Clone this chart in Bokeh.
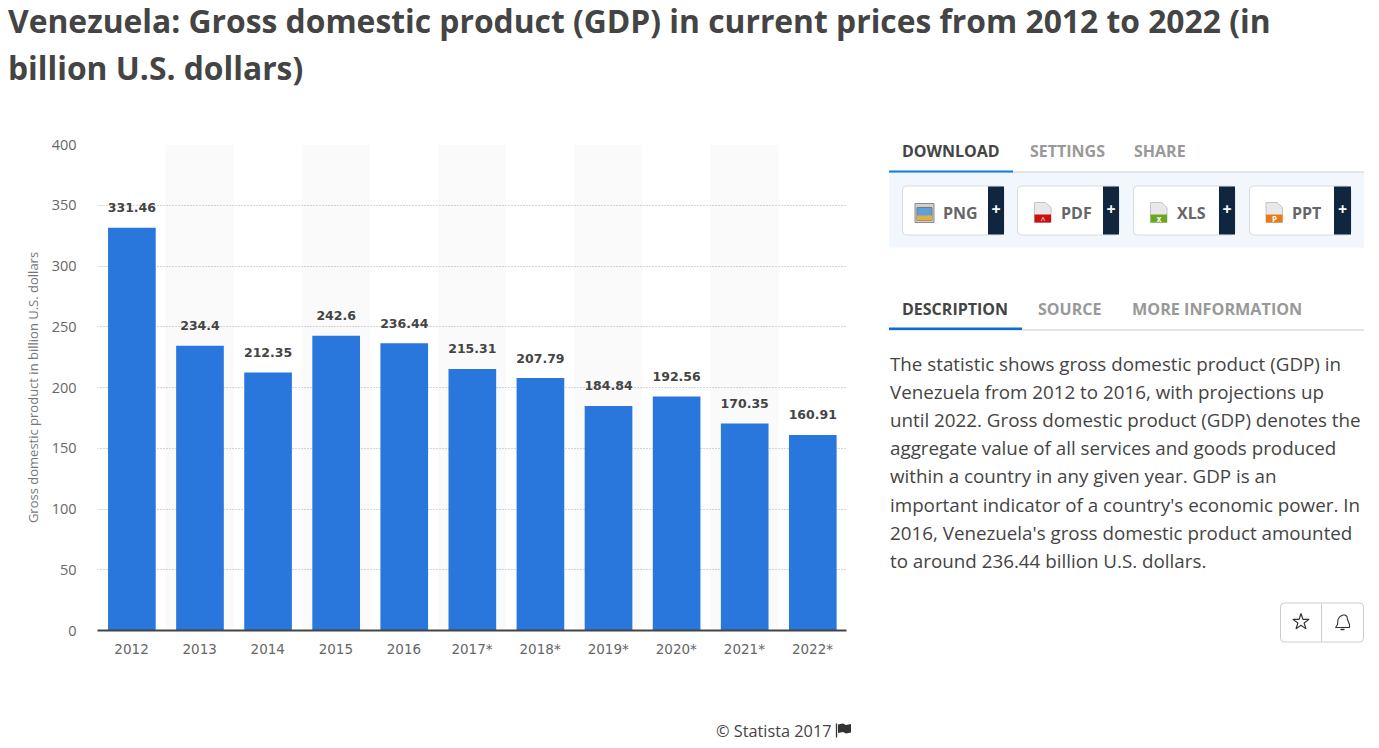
from bokeh.embed import file_html
from bokeh.resources import INLINE
from bokeh.plotting import figure
from bokeh.layouts import column, row
from bokeh.models import FactorRange, Range1d, ColumnDataSource
from bokeh.core.properties import value
from bokeh.transform import dodge

years = ["2012","2013","2014","2015","2016","2017*","2018*","2019*","2020*","2021*","2022*"]
gdp = [331.46,234.4,212.35,242.6,236.44,215.31,207.79,184.84,192.56,170.35,160.91]
gdp_labels = ["331.46","234.4","212.35","242.6","236.44","215.31","207.79","184.84","192.56","170.35","160.91"]
y_ticks = [0,50,100,150,200,250,300,350,400]
title_lines = ["Venezuela: Gross domestic product (GDP) in current prices from 2012 to 2022 (in",
               "billion U.S. dollars)"]
y_label = "Gross domestic product in billion U.S. dollars"
description = ["The statistic shows gross domestic product (GDP) in",
 "Venezuela from 2012 to 2016, with projections up",
 "until 2022. Gross domestic product (GDP) denotes the",
 "aggregate value of all services and goods produced",
 "within a country in any given year. GDP is an",
 "important indicator of a country's economic power. In",
 "2016, Venezuela's gross domestic product amounted",
 "to around 236.44 billion U.S. dollars."]
FONT = "Open Sans"

def canvas(x0, x1, y0, y1):
    f = figure(width=int(x1-x0), height=int(y1-y0), x_range=Range1d(x0, x1), y_range=Range1d(y1, y0),
               output_backend="svg", toolbar_location=None, min_border=0)
    f.axis.visible = False
    f.grid.visible = False
    f.outline_line_color = None
    return f

def txt(f, x, y, s, size, color, style="normal", align="left", font=FONT):
    f.text([x], [y], text=[s], text_font=value(font), text_font_size=size, text_color=color,
           text_font_style=style, text_align=align, text_baseline="middle")

# ---- title
head = canvas(0.5, 1375.5, 1, 119)
txt(head, 8, 21, title_lines[0], "31.8px", "#444444", "bold")
txt(head, 8, 68, title_lines[1], "31.8px", "#444444", "bold")

# ---- chart
src = ColumnDataSource(dict(x=years, y=gdp, label=gdp_labels))
p = figure(width=878, height=582, x_range=FactorRange(*years), y_range=Range1d(0, 400),
           output_backend="svg", toolbar_location=None,
           min_border_left=97, min_border_right=32, min_border_top=26, min_border_bottom=70)
p.x_range.range_padding = 0
p.outline_line_color = None
p.xgrid.visible = False
p.ygrid.grid_line_color = "#adadad"
p.ygrid.grid_line_dash = "1 2"
p.yaxis.ticker = y_ticks
p.yaxis.axis_line_color = None
p.yaxis.major_tick_line_color = None
p.yaxis.minor_tick_line_color = None
p.yaxis.major_label_standoff = 15
p.yaxis.major_label_text_font = FONT
p.yaxis.major_label_text_font_size = "14.5px"
p.yaxis.major_label_text_color = "#666666"
p.yaxis.axis_label = y_label
p.yaxis.axis_label_text_font = FONT
p.yaxis.axis_label_text_font_size = "13px"
p.yaxis.axis_label_text_font_style = "normal"
p.yaxis.axis_label_text_color = "#777777"
p.yaxis.axis_label_standoff = 7
p.xaxis.axis_line_color = "#444444"
p.xaxis.axis_line_width = 2
p.xaxis.major_tick_line_color = None
p.xaxis.minor_tick_line_color = None
p.xaxis.major_label_standoff = 4
p.xaxis.major_label_text_font = "DejaVu Sans"
p.xaxis.major_label_text_font_size = "13.5px"
p.xaxis.major_label_text_color = "#666666"

p.vbar(x=years[1::2], top=[400]*len(years[1::2]), bottom=0, width=1.0, fill_color="#fafafa",
       line_color=None, level="image")
p.vbar(x=dodge("x", 0.005, range=p.x_range), top="y", bottom=0, width=0.7, fill_color="#2976dd",
       line_color=None, source=src)
p.text(x=dodge("x", 0.005, range=p.x_range), y="y", text="label", source=src, y_offset=-20,
       text_font=value("DejaVu Sans"), text_font_size="12.5px", text_font_style="bold",
       text_color="#444444", text_align="center", text_baseline="middle")

# ---- side panel
s = canvas(878.5, 1375.5, 119, 701)
def rect(l, r, t, b, color, line=None, radius=0):
    s.quad(left=l, right=r, top=t, bottom=b, fill_color=color, line_color=line, border_radius=radius)

txt(s, 902, 151, "DOWNLOAD", "16px", "#444444", "bold")
txt(s, 1030, 151, "SETTINGS", "16px", "#999999", "bold")
txt(s, 1134, 151, "SHARE", "16px", "#999999", "bold")
rect(889, 1364, 173, 248, "#f2f6fd")
rect(889, 1364, 172, 173, "#cccccc")
rect(889, 1013, 171, 173, "#0a7fe6")

buttons = [(902, 988, 1004, "PNG", 943), (1017, 1103, 1119, "PDF", 1061),
           (1133, 1219, 1235, "XLS", 1177), (1249, 1334, 1351, "PPT", 1292)]
for l, m, r, lab, tx in buttons:
    rect(l+.5, r, 186.5, 235.5, "#ffffff", "#d8dbe0", 4)
    rect(m, r, 187, 235, "#10263f", None, 0)
    txt(s, tx, 213, lab, "16px", "#666666", "bold")
    txt(s, (m+r)/2, 209, "+", "16px", "#ffffff", "bold", "center")
# file icons
rect(915, 934, 204, 223, "#d0d0d0", "#8a8a8a")
rect(917, 932, 208, 221, "#5fa0dc", "#777777")
rect(917, 932, 216, 221, "#e0b040")
for l, col, mark in [(1034.5, "#cc0f0f", "\u02c4"), (1150.5, "#6aa81e", "x"), (1266, "#ea7a14", "P")]:
    s.patch([l, l+11, l+16.5, l+16.5, l], [203, 203, 208, 223, 223], fill_color="#e8e8e8", line_color="#c4c4c4")
    rect(l, l+16.5, 215, 223, col)
    txt(s, l+8.5, 218.5, mark, "8px", "#ffffff", "bold", "center")

txt(s, 902, 309, "DESCRIPTION", "16px", "#444444", "bold")
txt(s, 1038, 309, "SOURCE", "16px", "#999999", "bold")
txt(s, 1132, 309, "MORE INFORMATION", "16.2px", "#999999", "bold")
rect(889, 1364, 330, 331, "#cccccc")
rect(889, 1022, 328, 330.5, "#0a6fd0")

line_ys = [364, 392, 420, 448, 476, 505, 533, 561]
for yy, line in zip(line_ys, description):
    txt(s, 890, yy, line, "18.8px", "#444444")

rect(1280.5, 1363.5, 603.5, 642.5, "#ffffff", "#cccccc", 4)
s.segment(1321.5, 604, 1321.5, 642, line_color="#cccccc")
s.scatter([1301], [622.5], marker="star", size=17, fill_color=None, line_color="#333333", line_width=1.2)
s.patch([1335.5,1337.5,1338,1340,1343,1345,1347,1347.5,1349.5,1349.5,1335.5],
        [628,625,620,617,615.5,615.5,617,620,625,628,628], fill_color=None, line_color="#333333", line_width=1.1)
s.segment(1340.5, 630, 1344.5, 630, line_color="#333333", line_width=1.5)

# ---- footer
foot = canvas(0.5, 1375.5, 701, 746)
txt(foot, 716, 731, "\u00a9 Statista 2017", "16.3px", "#444444")
foot.segment(836.5, 724, 836.5, 738, line_color="#333333", line_width=1.3)
foot.patch([838,843,846,851,851,846,843,838], [725,724,725.5,724.5,733,734,732.5,733.5], fill_color="#333333", line_color=None)

page = column(head, row(column(p), column(s), spacing=0), foot, spacing=0)
open("out.html", "w").write(file_html(page, INLINE))
